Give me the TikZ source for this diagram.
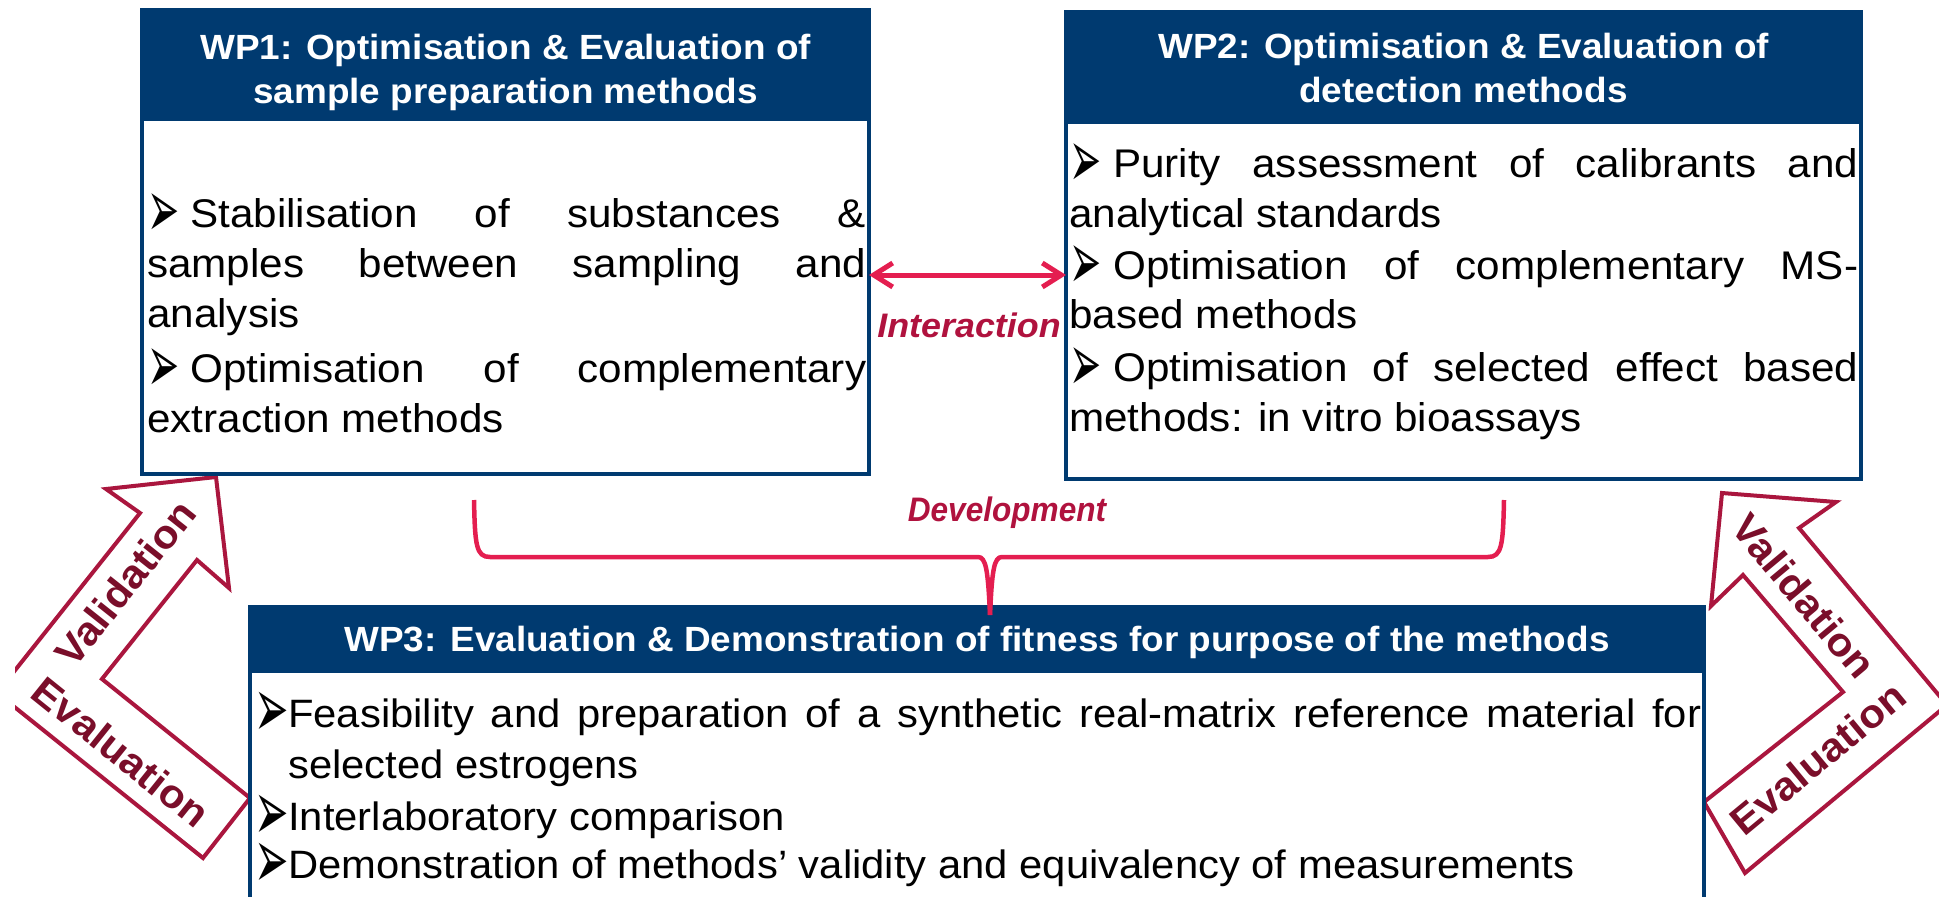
\documentclass[tikz,border=0pt]{standalone}
\usepackage{fontspec}
\usepackage{graphicx}
\setmainfont{Liberation Sans}[FakeStretch=1.055]
\newfontfamily\dejavu{DejaVu Sans}
\usetikzlibrary{arrows.meta}
\definecolor{navy}{RGB}{0,58,112}
\definecolor{arrred}{RGB}{170,22,62}
\definecolor{arrtxt}{RGB}{122,14,42}
\definecolor{pinkline}{RGB}{228,30,80}
\definecolor{lbltxt}{RGB}{176,18,62}
% bullet: #1 box width, #2 x-scale, #3 y-scale
\newcommand\bul[3]{\makebox[#1][l]{\raisebox{-10pt}{\scalebox{#2}[#3]{\resizebox{46pt}{!}{\dejavu ➢}}}\hss}}
\newcommand\jl[2]{\makebox[#1][s]{#2}}
\hbadness=10000
\hfuzz=50pt
\begin{document}
\begin{tikzpicture}[x=1pt,y=-1pt,
  boxframe/.style={draw=navy, line width=4.5pt, fill=white, inner sep=0pt, outer sep=0pt, anchor=north west},
  hdrbar/.style={fill=navy, inner sep=0pt, outer sep=0pt, anchor=north west},
  hdrtext/.style={text=white, font=\bfseries\fontsize{35}{44}\selectfont, align=center, inner sep=0pt},
  bodyline/.style={anchor=base west, inner sep=0pt, font=\fontsize{40}{50}\selectfont},
  bodyline3/.style={anchor=base west, inner sep=0pt, font=\fontsize{39.6}{50}\selectfont},
  arrowshape/.style={draw=arrred, line width=4pt, fill=white, line join=miter},
  arrtext/.style={text=arrtxt, font=\bfseries\fontsize{40}{40}\selectfont, inner sep=0pt},
  lbl/.style={text=lbltxt, font=\bfseries\itshape\fontsize{34}{34}\selectfont, inner sep=0pt},
  pinkconn/.style={draw=pinkline, line width=5pt},
  barb/.tip={Straight Barb[length=19pt,width=24pt]}
]
\useasboundingbox (0,0) rectangle (1939,897);

% bent arrows (behind boxes)
\begin{scope}
\clip (15,0) rectangle (1939,897);
\draw[arrowshape] (216,477) -- (229,588) -- (197,560) -- (102,679) -- (250,798)
  -- (203,858) -- (-3,693) -- (140,513) -- (106,489) -- cycle;
\draw[arrowshape] (1722,493) -- (1836,502) -- (1799,528) -- (1947,705) -- (1745,873)
  -- (1704,802) -- (1843,692) -- (1743,575) -- (1711,606) -- cycle;
\end{scope}
\node[arrtext, rotate=51.5] (lval) at (125,583) {Validation};
\node[arrtext, rotate=-38.8] (leva) at (121,752) {Evaluation};
\node[arrtext, rotate=-50.2] (rval) at (1804,596) {Validation};
\node[arrtext, rotate=39.6] (reva) at (1818,758) {Evaluation};

% WP1
\node[boxframe, minimum width=727pt, minimum height=464pt] (wp1) at (142,10) {};
\node[hdrbar, minimum width=727pt, minimum height=111pt] (wp1h) at (142,10) {};
\node[hdrtext] (wp1t) at (505.5,72) {WP1: Optimisation \& Evaluation of\\sample preparation methods};
\node[bodyline] (w1a) at (147,227) {\jl{719pt}{\bul{43pt}{0.7}{1.5}Stabilisation of substances \&}};
\node[bodyline] (w1b) at (147,277) {\jl{719pt}{samples between sampling and}};
\node[bodyline] (w1c) at (147,327) {analysis};
\node[bodyline] (w1d) at (147,382) {\jl{719pt}{\bul{43pt}{0.7}{1.5}Optimisation of complementary}};
\node[bodyline] (w1e) at (147,432) {extraction methods};

% WP2
\node[boxframe, minimum width=795pt, minimum height=467pt] (wp2) at (1066,12) {};
\node[hdrbar, minimum width=795pt, minimum height=112pt] (wp2h) at (1066,12) {};
\node[hdrtext] (wp2t) at (1463.5,68) {WP2: Optimisation \& Evaluation of\\detection methods};
\node[bodyline] (w2a) at (1069,177) {\jl{789pt}{\bul{44pt}{0.7}{1.5}Purity assessment of calibrants and}};
\node[bodyline] (w2b) at (1069,227) {analytical standards};
\node[bodyline] (w2c) at (1069,279) {\jl{789pt}{\bul{44pt}{0.7}{1.5}Optimisation of complementary MS-}};
\node[bodyline] (w2d) at (1069,328) {based methods};
\node[bodyline] (w2e) at (1069,381) {\jl{789pt}{\bul{44pt}{0.7}{1.5}Optimisation of selected effect based}};
\node[bodyline] (w2f) at (1069,431) {methods: in vitro bioassays};

% WP3
\node[boxframe, minimum width=1454pt, minimum height=295pt] (wp3) at (250,607) {};
\node[hdrbar, minimum width=1454pt, minimum height=66pt] (wp3h) at (250,607) {};
\node[hdrtext, font=\bfseries\fontsize{35}{40}\selectfont, anchor=base] (wp3t) at (977,651) {WP3: Evaluation \& Demonstration of fitness for purpose of the methods};
\node[bodyline3] (w3a) at (254,727) {\jl{1447pt}{\bul{34pt}{0.75}{1.55}Feasibility and preparation of a synthetic real-matrix reference material for}};
\node[bodyline3] (w3b) at (288,778) {selected estrogens};
\node[bodyline3] (w3c) at (254,830) {\bul{34pt}{0.75}{1.55}Interlaboratory comparison};
\node[bodyline3] (w3d) at (254,878) {\bul{34pt}{0.75}{1.55}Demonstration of methods’ validity and equivalency of measurements};

% Interaction
\coordinate (iy) at (0,275);
\draw[pinkconn, barb-barb] (wp1.east |- iy) -- (wp2.west |- iy);
\node[lbl, anchor=base] (inter) at (969,337) {Interaction};

% Development brace
\coordinate (brL) at (474,500);
\coordinate (brR) at (1504,500);
\coordinate (brT) at (990,615);
\draw[pinkconn, line width=4.5pt] (brL) .. controls (475,545) and (476,557) .. (490,557) -- (978,557)
   .. controls (986,557) and (988,570) .. (brT);
\draw[pinkconn, line width=4.5pt] (brR) .. controls (1503,545) and (1502,557) .. (1488,557) -- (1002,557)
   .. controls (994,557) and (992,570) .. (brT);
\node[lbl, anchor=base] (dev) at (1007,521) {\scalebox{0.88}[1]{Development}};
\end{tikzpicture}
\end{document}
